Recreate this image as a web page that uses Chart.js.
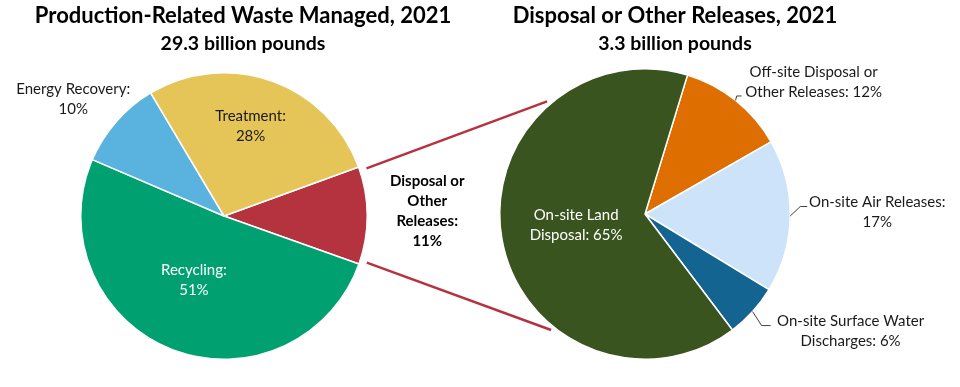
<!DOCTYPE html>
<html><head><meta charset="utf-8">
<script src="https://cdn.jsdelivr.net/npm/chart.js@4.4.0/dist/chart.umd.min.js"></script>
<style>
html,body{margin:0;padding:0;background:#fff;}
#wrap{position:relative;width:960px;height:387px;overflow:hidden;}
.layer{position:absolute;left:0;top:0;width:960px;height:387px;}
</style></head><body>
<div id="wrap">
<div class="layer"><canvas id="left"></canvas></div>
<div class="layer"><canvas id="right"></canvas></div>
</div>
<script>
// ---- data ----
const wasteTitle = 'Production-Related Waste Managed, 2021';
const wasteSubtitle = '29.3 billion pounds';
const wasteCategories = ['Disposal or Other Releases', 'Recycling', 'Energy Recovery', 'Treatment'];
const wasteShares = [11, 51, 10, 28];

const releaseTitle = 'Disposal or Other Releases, 2021';
const releaseSubtitle = '3.3 billion pounds';
const releaseCategories = ['Off-site Disposal or Other Releases', 'On-site Air Releases', 'On-site Surface Water Discharges', 'On-site Land Disposal'];
const releaseShares = [12, 17, 6, 65];

// ---- style ----
const FONT = 'Lato, "Open Sans", sans-serif';

const titlePlugin = {
  id: 'pieTitles',
  afterDraw(chart, args, opts) {
    const ctx = chart.ctx;
    ctx.save();
    ctx.fillStyle = '#000';
    ctx.textAlign = 'center';
    ctx.textBaseline = 'alphabetic';
    ctx.font = 'bold 22px ' + FONT;
    ctx.fillText(opts.title, opts.x, 23);
    ctx.font = 'bold 19.5px ' + FONT;
    ctx.fillText(opts.subtitle, opts.x, 50);
    ctx.restore();
  }
};

const sliceLabelPlugin = {
  id: 'sliceLabels',
  afterDatasetsDraw(chart, args, opts) {
    const ctx = chart.ctx;
    const meta = chart.getDatasetMeta(0);
    const ds = chart.data.datasets[0];
    ctx.save();
    meta.data.forEach((arc, i) => {
      const cfg = opts.items[i];
      const p = arc.getProps(['x', 'y', 'startAngle', 'endAngle', 'outerRadius'], true);
      const mid = (p.startAngle + p.endAngle) / 2;
      const ang = mid + cfg.da * Math.PI / 180;
      const ex = p.x + Math.cos(mid) * p.outerRadius;
      const ey = p.y + Math.sin(mid) * p.outerRadius;
      const ax = p.x + Math.cos(ang) * p.outerRadius * cfg.f + cfg.dx;
      const ay = p.y + Math.sin(ang) * p.outerRadius * cfg.f + cfg.dy;
      if (cfg.leader) {
        ctx.beginPath();
        ctx.moveTo(ex, ey);
        cfg.leader.forEach(([lx, ly]) => ctx.lineTo(ex + lx, ey + ly));
        ctx.strokeStyle = '#404040';
        ctx.lineWidth = 1;
        ctx.stroke();
      }
      const text = chart.data.labels[i] + ': ' + ds.data[i] + '%';
      const words = text.split(' ');
      const lines = [];
      let k = 0;
      cfg.brk.forEach(n => { lines.push(words.slice(k, k + n).join(' ')); k += n; });
      ctx.font = (cfg.bold ? 'bold ' : '') + '15px ' + FONT;
      ctx.fillStyle = cfg.color;
      ctx.textAlign = 'center';
      ctx.textBaseline = 'alphabetic';
      const lh = 20;
      const y0 = ay - (lines.length - 1) * lh / 2;
      lines.forEach((ln, j) => ctx.fillText(ln, ax, y0 + j * lh + 5.5));
    });
    ctx.restore();
  }
};

const commonOpts = {
  responsive: true,
  maintainAspectRatio: false,
  animation: false,
  events: [],
};

const leftChart = new Chart(document.getElementById('left'), {
  type: 'pie',
  data: {
    labels: wasteCategories,
    datasets: [{
      data: wasteShares,
      backgroundColor: ['#B5333F', '#00A070', '#59B3DE', '#E5C558'],
      borderColor: '#ffffff',
      borderWidth: 1.5
    }]
  },
  plugins: [titlePlugin, sliceLabelPlugin],
  options: {
    ...commonOpts,
    rotation: 70,
    layout: { padding: { left: 80, right: 592, top: 72, bottom: 27 } },
    plugins: {
      legend: { display: false },
      tooltip: { enabled: false },
      pieTitles: { title: wasteTitle, subtitle: wasteSubtitle, x: 243 },
      sliceLabels: {
        items: [
          { brk: [2, 1, 1, 1], f: 1, da: 0, dx: 60, dy: -5, color: '#000', bold: true },
          { brk: [1, 1], f: 0.49, da: 4, dx: 0, dy: 0, color: '#ffffff' },
          { brk: [2, 1], f: 1, da: 0, dx: -43, dy: -23, color: '#1a1a1a' },
          { brk: [1, 1], f: 0.65, da: -3, dx: 0, dy: -1.5, color: '#1a1a1a' }
        ]
      }
    }
  }
});

const connectorPlugin = {
  id: 'connectors',
  afterDraw(chart) {
    const ctx = chart.ctx;
    const la = leftChart.getDatasetMeta(0).data[0].getProps(['x', 'y', 'startAngle', 'endAngle', 'outerRadius'], true);
    const ra = chart.getDatasetMeta(0).data[0].getProps(['x', 'y', 'outerRadius'], true);
    const inset = 1.5 * Math.PI / 180;
    const lr = la.outerRadius + 7;
    const rr = ra.outerRadius + 4;
    const ends = [[la.startAngle + inset, -131], [la.endAngle - inset, 129]];
    ctx.save();
    ctx.strokeStyle = '#B5333F';
    ctx.lineWidth = 2.5;
    ends.forEach(([a1, a2deg]) => {
      const a2 = a2deg * Math.PI / 180;
      ctx.beginPath();
      ctx.moveTo(la.x + Math.cos(a1) * lr, la.y + Math.sin(a1) * lr);
      ctx.lineTo(ra.x + Math.cos(a2) * rr, ra.y + Math.sin(a2) * rr);
      ctx.stroke();
    });
    ctx.restore();
  }
};

const rightChart = new Chart(document.getElementById('right'), {
  type: 'pie',
  data: {
    labels: releaseCategories,
    datasets: [{
      data: releaseShares,
      backgroundColor: ['#DE6E00', '#CCE3FA', '#146492', '#3A5420'],
      borderColor: '#ffffff',
      borderWidth: 1.5
    }]
  },
  plugins: [titlePlugin, sliceLabelPlugin, connectorPlugin],
  options: {
    ...commonOpts,
    rotation: 17,
    layout: { padding: { left: 499, right: 169, top: 68, bottom: 27 } },
    plugins: {
      legend: { display: false },
      tooltip: { enabled: false },
      pieTitles: { title: releaseTitle, subtitle: releaseSubtitle, x: 675 },
      sliceLabels: {
        items: [
          { brk: [3, 3], f: 1, da: 0, dx: 78, dy: -18.5, color: '#1a1a1a', leader: [[1, -4.5], [6, -4.5]] },
          { brk: [3, 1], f: 1, da: 0, dx: 87, dy: -4.5, color: '#1a1a1a', leader: [[10, -9.5], [17, -9.5]] },
          { brk: [3, 2], f: 1, da: 0, dx: 98, dy: 19, color: '#1a1a1a', leader: [[9, 14], [18, 14]] },
          { brk: [2, 2], f: 0.48, da: 1, dx: 0, dy: 0, color: '#ffffff' }
        ]
      }
    }
  }
});
</script>
</body></html>
